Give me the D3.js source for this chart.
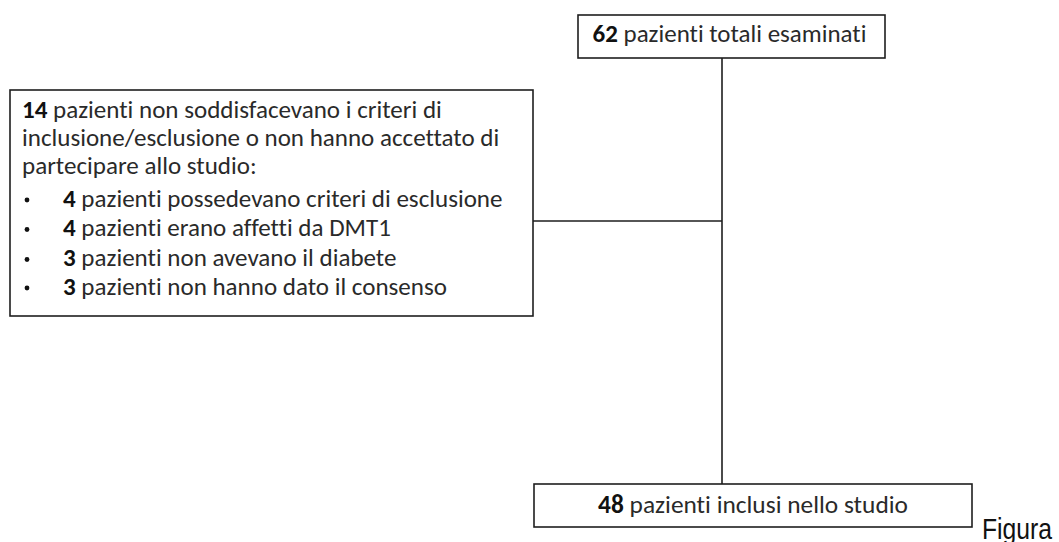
<!DOCTYPE html>
<html>
<head>
<meta charset="utf-8">
<script src="https://cdn.jsdelivr.net/npm/d3@7"></script>
<style>
  html, body { margin: 0; padding: 0; background: #fff; }
  svg { display: block; }
  text { font-variant-ligatures: none; font-feature-settings: "liga" 0, "dlig" 0; }
</style>
</head>
<body>
<svg id="chart" width="1059" height="542"></svg>
<script>
// ---- data ----
const totalCount = "62";
const totalLabel = "pazienti totali esaminati";
const excludedCount = "14";
const excludedIntro = [
  "pazienti non soddisfacevano i criteri di",
  "inclusione/esclusione o non hanno accettato di",
  "partecipare allo studio:"
];
const reasonCounts = ["4", "4", "3", "3"];
const reasonLabels = [
  "pazienti possedevano criteri di esclusione",
  "pazienti erano affetti da DMT1",
  "pazienti non avevano il diabete",
  "pazienti non hanno dato il consenso"
];
const includedCount = "48";
const includedLabel = "pazienti inclusi nello studio";
const captionText = "Figura";

// ---- layout ----
const svg = d3.select("#chart");
const FONT = "Carlito, Lato, 'Open Sans', sans-serif";
const STROKE = "#1e1e1e";
const TEXT = "#2a2a2a";

const topBox = {x0: 578, x1: 885, y0: 15, y1: 58};
const leftBox = {x0: 10, x1: 533, y0: 90, y1: 316};
const botBox = {x0: 534, x1: 972, y0: 484, y1: 527};
const trunkX = 722, branchY = 221;

// connectors
const lines = [
  [[trunkX, topBox.y1], [trunkX, botBox.y0]],
  [[leftBox.x1, branchY], [trunkX, branchY]]
];
svg.selectAll("path.conn").data(lines).join("path")
  .attr("class", "conn")
  .attr("d", d => d3.line()(d))
  .attr("stroke", STROKE).attr("stroke-width", 1.6).attr("fill", "none");

// boxes
svg.selectAll("rect.box").data([topBox, leftBox, botBox]).join("rect")
  .attr("class", "box")
  .attr("x", d => d.x0).attr("y", d => d.y0)
  .attr("width", d => d.x1 - d.x0).attr("height", d => d.y1 - d.y0)
  .attr("fill", "#fff").attr("stroke", STROKE).attr("stroke-width", 1.6);

// text helper: bold count + regular label
function addLine(x, y, count, label, anchor) {
  const t = svg.append("text")
    .attr("x", x).attr("y", y)
    .attr("font-family", FONT).attr("font-size", 20)
    .attr("fill", TEXT)
    .attr("text-anchor", anchor || "start");
  if (count !== null) {
    t.append("tspan").attr("font-weight", "bold").attr("fill", "#111").text(count + " ");
  }
  t.append("tspan").text(label);
  return t;
}
function fit(t, targetW) {
  const w = t.node().getComputedTextLength();
  if (w > 0) t.attr("font-size", 20 * targetW / w);
}

// top box
fit(addLine((topBox.x0 + topBox.x1) / 2 - 2, 42, totalCount, totalLabel, "middle"), 274);

// left box: uniform font size derived from measured line widths
const introBase = [117.5, 145.5, 174];
const bulletBase = [206.5, 236, 266, 294.5];
const leftTexts = [];
const targets = [];
excludedIntro.forEach((s, i) => {
  leftTexts.push(addLine(22, introBase[i], i === 0 ? excludedCount : null, s, "start"));
});
reasonLabels.forEach((s, i) => {
  svg.append("circle")
    .attr("cx", 27).attr("cy", bulletBase[i] - 6.5).attr("r", 2.4)
    .attr("fill", "#111");
  leftTexts.push(addLine(63, bulletBase[i], reasonCounts[i], s, "start"));
});
// measured target widths for reliable lines (index -> width)
const refW = {0: 421, 1: 480, 3: 439, 6: 382};
const ratios = Object.keys(refW).map(k => refW[k] / leftTexts[+k].node().getComputedTextLength());
const leftSize = 20 * d3.mean(ratios);
leftTexts.forEach(t => t.attr("font-size", leftSize));

// bottom box
fit(addLine((botBox.x0 + botBox.x1) / 2, 513, includedCount, includedLabel, "middle"), 310);

// caption
svg.append("text")
  .attr("x", 982).attr("y", 539)
  .attr("font-family", "'Liberation Sans Narrow', 'Liberation Sans', Arial, sans-serif")
  .attr("font-size", 30)
  .attr("fill", "#111")
  .attr("textLength", 70).attr("lengthAdjust", "spacingAndGlyphs")
  .text(captionText);
</script>
</body>
</html>
